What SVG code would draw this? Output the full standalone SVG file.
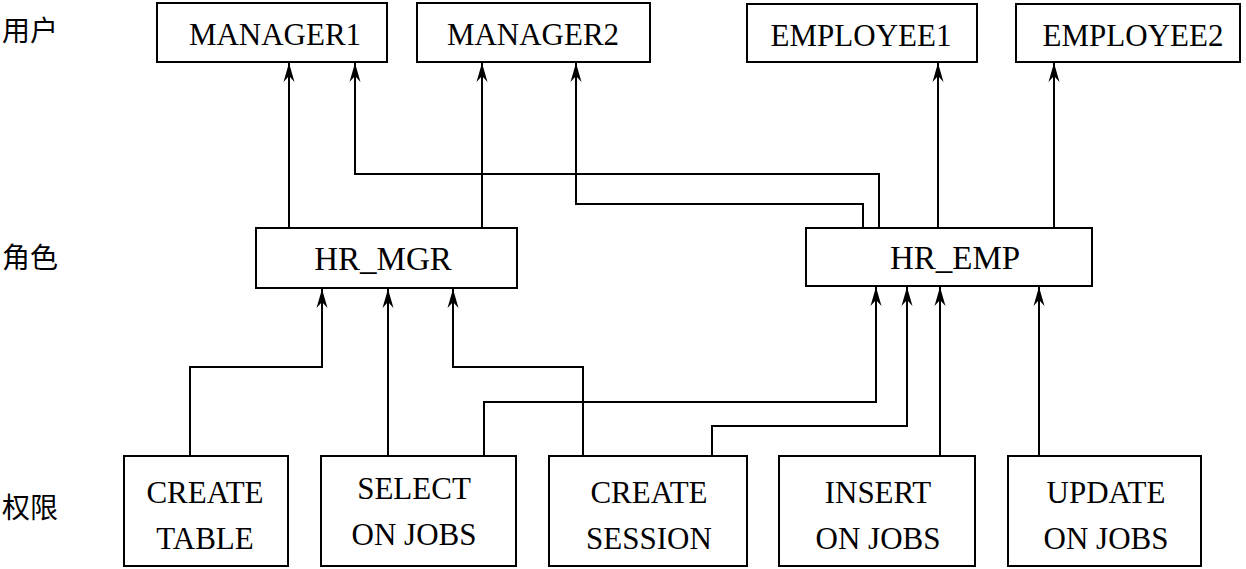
<svg xmlns="http://www.w3.org/2000/svg" width="1246" height="569" viewBox="0 0 1246 569">
<defs>
<marker id="arr" markerUnits="userSpaceOnUse" markerWidth="20" markerHeight="14" viewBox="-20 -7 20 14" refX="0" refY="0" orient="auto">
<path d="M0,0 L-19,-5.5 L-13,0 L-19,5.5 Z" fill="#000"/>
</marker>
</defs>
<style>
.box{fill:#fff;stroke:#000;stroke-width:2}
.t{font-family:"Liberation Serif","Times New Roman",serif;font-size:31px;text-anchor:middle;fill:#000}
.h{font-size:33px}
.cn{font-family:"Noto Sans CJK SC","Noto Sans",sans-serif;font-size:28px;fill:#000}
.c{fill:none;stroke:#000;stroke-width:2;marker-end:url(#arr)}
</style>
<rect width="1246" height="569" fill="#fff"/>
<g id="levels">
<text class="cn" x="2" y="41">用户</text>
<text class="cn" x="2" y="268">角色</text>
<text class="cn" x="2" y="518">权限</text>
</g>
<g id="connectors">
<path class="c" d="M289,228 V63"/>
<path class="c" d="M482,228 V63"/>
<path class="c" d="M879,228 V174 H355 V63"/>
<path class="c" d="M863,228 V204 H576 V63"/>
<path class="c" d="M938,228 V63"/>
<path class="c" d="M1054,228 V63"/>
<path class="c" d="M190,456 V367 H322 V289"/>
<path class="c" d="M388,456 V289"/>
<path class="c" d="M583,456 V367 H453 V289"/>
<path class="c" d="M484,456 V402 H876 V287"/>
<path class="c" d="M712,456 V426 H907 V287"/>
<path class="c" d="M940,456 V287"/>
<path class="c" d="M1039,456 V287"/>
</g>
<g id="MANAGER1"><rect class="box" x="157" y="3" width="230" height="59"/><text class="t" x="275" y="45">MANAGER1</text></g>
<g id="MANAGER2"><rect class="box" x="417" y="3" width="233" height="59"/><text class="t" x="533" y="45">MANAGER2</text></g>
<g id="EMPLOYEE1"><rect class="box" x="747" y="4" width="230" height="58"/><text class="t" x="861" y="46">EMPLOYEE1</text></g>
<g id="EMPLOYEE2"><rect class="box" x="1016" y="4" width="224" height="58"/><text class="t" x="1133" y="46">EMPLOYEE2</text></g>
<g id="HR_MGR"><rect class="box" x="256" y="228" width="261" height="60"/><text class="t h" x="383" y="270">HR_MGR</text></g>
<g id="HR_EMP"><rect class="box" x="806" y="228" width="286" height="58"/><text class="t h" x="955" y="269">HR_EMP</text></g>
<g id="CREATE_TABLE"><rect class="box" x="124" y="456" width="164" height="110"/><text class="t" x="205" y="503">CREATE</text><text class="t" x="205" y="549">TABLE</text></g>
<g id="SELECT_ON_JOBS"><rect class="box" x="321" y="456" width="195" height="110"/><text class="t" x="414" y="499">SELECT</text><text class="t" x="414" y="545">ON JOBS</text></g>
<g id="CREATE_SESSION"><rect class="box" x="549" y="456" width="198" height="110"/><text class="t" x="649" y="503">CREATE</text><text class="t" x="649" y="549">SESSION</text></g>
<g id="INSERT_ON_JOBS"><rect class="box" x="779" y="456" width="196" height="110"/><text class="t" x="878" y="503">INSERT</text><text class="t" x="878" y="549">ON JOBS</text></g>
<g id="UPDATE_ON_JOBS"><rect class="box" x="1008" y="456" width="193" height="110"/><text class="t" x="1106" y="503">UPDATE</text><text class="t" x="1106" y="549">ON JOBS</text></g>
</svg>
